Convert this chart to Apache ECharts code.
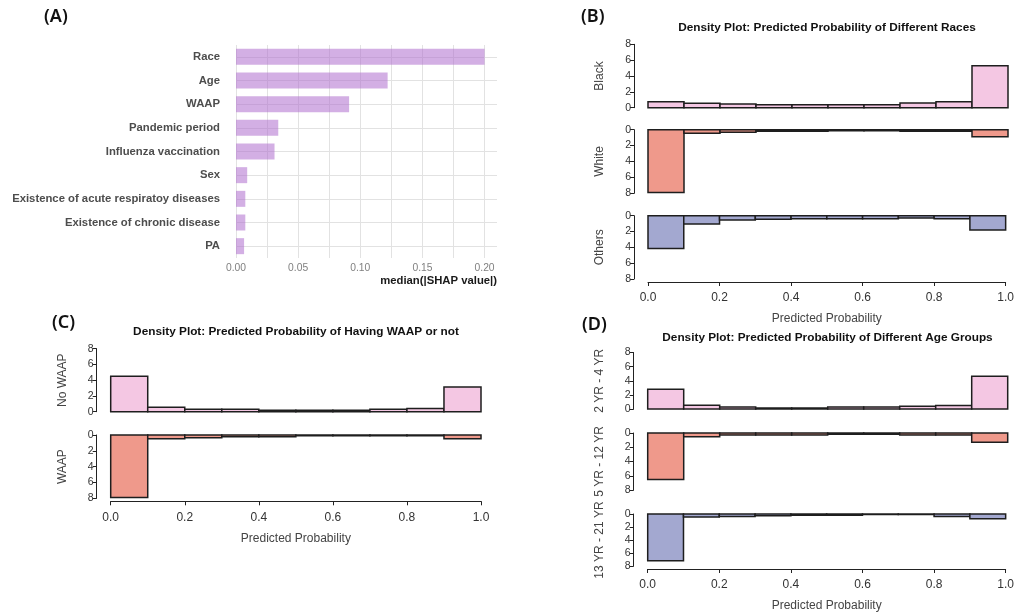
<!DOCTYPE html>
<html>
<head>
<meta charset="utf-8">
<script src="https://cdn.jsdelivr.net/npm/echarts@6/dist/echarts.min.js"></script>
<style>
html,body{margin:0;padding:0;background:#fff;}
#c{width:1017px;height:613px;}
</style>
</head>
<body>
<div id="c"></div>
<script>
// ---------- DATA ----------
const shapFeatures = ['Race','Age','WAAP','Pandemic period','Influenza vaccination','Sex','Existence of acute respiratoy diseases','Existence of chronic disease','PA'];
const shapValues = [0.200,0.122,0.091,0.034,0.031,0.009,0.0075,0.0075,0.0065];
const shapTicks = [0,0.05,0.10,0.15,0.20];

const binEdges = [0.0,0.1,0.2,0.3,0.4,0.5,0.6,0.7,0.8,0.9,1.0];
const probTicks = [0.0,0.2,0.4,0.6,0.8,1.0];
const densityTicks = [0,2,4,6,8];

const raceBlack  = [0.76,0.55,0.46,0.38,0.38,0.38,0.38,0.6,0.75,5.3];
const raceWhite  = [7.9,0.46,0.33,0.2,0.2,0.12,0.12,0.2,0.2,0.88];
const raceOthers = [4.13,1.05,0.55,0.46,0.38,0.38,0.38,0.3,0.38,1.81];

const waapNo  = [4.49,0.55,0.3,0.3,0.17,0.17,0.17,0.3,0.42,3.14];
const waapYes = [7.9,0.47,0.34,0.21,0.21,0.08,0.08,0.08,0.08,0.47];

const age2to4   = [2.78,0.53,0.29,0.14,0.14,0.29,0.29,0.38,0.48,4.64];
const age5to12  = [6.53,0.51,0.28,0.28,0.28,0.19,0.19,0.28,0.28,1.3];
const age13to21 = [7.18,0.46,0.37,0.28,0.19,0.19,0.09,0.09,0.37,0.74];

// ---------- STYLE / LAYOUT ----------
const FF = '"Liberation Sans", Arial, Helvetica, sans-serif';
const PINK = '#f4c7e3', SALMON = '#ef998b', BLUE = '#a3a8d0';

const chart = echarts.init(document.getElementById('c'), null, {renderer:'canvas'});

const grids = [], xAxes = [], yAxes = [], series = [];

// Panel A
grids.push({left:236, right:520, top:45, height:213});
xAxes.push({
  gridIndex:0, type:'value', min:0, max:0.21, interval:0.025,
  axisLine:{show:false}, axisTick:{show:false},
  splitLine:{show:true, showMaxLine:false, lineStyle:{color:'#e2e2e2', width:1}},
  axisLabel:{
    fontSize:10.3, color:'#808080', fontFamily:FF, margin:5, showMaxLabel:false,
    formatter:function(v){
      for (const t of shapTicks){ if (Math.abs(v-t)<1e-9) return t.toFixed(2); }
      return '';
    }
  }
});
yAxes.push({
  gridIndex:0, type:'category', inverse:true, data:shapFeatures, offset:13,
  axisLine:{show:false},
  axisTick:{show:true, inside:true, alignWithLabel:true, length:261, lineStyle:{color:'#e2e2e2', width:1}},
  axisLabel:{fontSize:11.3, fontWeight:'bold', color:'#4d4d4d', fontFamily:FF, margin:3},
  splitLine:{show:false}
});
series.push({
  type:'bar', xAxisIndex:0, yAxisIndex:0, data:shapValues, barWidth:16,
  itemStyle:{color:'rgba(175,110,205,0.55)'}, silent:true
});

// Histogram panels
function addHist(left, width, top, height, values, color, down, sideLabel, isBottom){
  const gi = grids.length;
  grids.push({left:left, width:width, top:top, height:height});
  xAxes.push({
    gridIndex:gi, type:'value', min:0, max:1, interval:0.2,
    show:isBottom, position:'bottom', offset:3,
    axisLine:{show:true, onZero:false, lineStyle:{color:'#222', width:1}},
    axisTick:{show:true, length:4, lineStyle:{color:'#222'}},
    axisLabel:{fontSize:12, color:'#333', fontFamily:FF, margin:10, formatter:function(v){return v.toFixed(1);}},
    splitLine:{show:false},
    name: isBottom ? 'Predicted Probability' : '',
    nameLocation:'middle', nameGap:31,
    nameTextStyle:{fontSize:12, color:'#444', fontFamily:FF}
  });
  yAxes.push({
    gridIndex:gi, type:'value', min:0, max:8, interval:2, inverse:down, offset:14,
    axisLine:{show:true, onZero:false, lineStyle:{color:'#222', width:1}},
    axisTick:{show:true, length:4, lineStyle:{color:'#222'}},
    axisLabel:{fontSize:10.5, color:'#333', fontFamily:FF, margin:3},
    splitLine:{show:false},
    name:sideLabel, nameLocation:'middle', nameRotate:90, nameGap:28,
    nameTextStyle:{fontSize:12, color:'#444', fontFamily:FF}
  });
  const data = values.map(function(v,i){ return [binEdges[i], binEdges[i+1], v]; });
  series.push({
    type:'custom', xAxisIndex:gi, yAxisIndex:gi, data:data, silent:true, clip:false,
    encode:{x:[0,1], y:2},
    renderItem:function(params, api){
      const p0 = api.coord([api.value(0), 0]);
      const p1 = api.coord([api.value(1), api.value(2)]);
      return {
        type:'rect',
        shape:{x:p0[0], y:Math.min(p0[1],p1[1]), width:p1[0]-p0[0], height:Math.abs(p1[1]-p0[1])},
        style:{fill:color, stroke:'#1e1e1e', lineWidth:1.5}
      };
    }
  });
}

// Panel B
addHist(648, 360, 44.3, 63.4, raceBlack, PINK, false, 'Black', false);
addHist(648, 360, 129.7, 63.6, raceWhite, SALMON, true, 'White', false);
addHist(648, 360, 215.7, 63.3, raceOthers, BLUE, true, 'Others', true);
// Panel C
addHist(110.7, 370.3, 348.7, 63, waapNo, PINK, false, 'No WAAP', false);
addHist(110.7, 370.3, 435, 63.3, waapYes, SALMON, true, 'WAAP', true);
// Panel D
addHist(647.7, 360, 352.5, 56.5, age2to4, PINK, false, '2 YR - 4 YR', false);
addHist(647.7, 360, 433, 57, age5to12, SALMON, true, '5 YR - 12 YR', false);
addHist(647.7, 360, 514, 57.5, age13to21, BLUE, true, '13 YR - 21 YR', true);

function txt(x, y, text, font, align, fill){
  return {type:'text', x:x, y:y, silent:true,
    style:{text:text, font:font, fill:fill||'#111', align:align||'left', verticalAlign:'middle'}};
}
const LBL = '600 18px "Noto Sans", "Open Sans", sans-serif';
const TTL = 'bold 11.8px ' + FF;

chart.setOption({
  animation:false,
  backgroundColor:'#ffffff',
  grid:grids, xAxis:xAxes, yAxis:yAxes, series:series,
  graphic:[
    txt(44, 17, '(A)', LBL),
    txt(581, 17, '(B)', LBL),
    txt(52, 323, '(C)', LBL),
    txt(582, 325, '(D)', LBL),
    txt(827, 28, 'Density Plot: Predicted Probability of Different Races', TTL, 'center'),
    txt(296, 332, 'Density Plot: Predicted Probability of Having WAAP or not', TTL, 'center'),
    txt(827.5, 338, 'Density Plot: Predicted Probability of Different Age Groups', TTL, 'center'),
    txt(497, 281, 'median(|SHAP value|)', 'bold 11.3px ' + FF, 'right', '#1a1a1a')
  ]
});
</script>
</body>
</html>
